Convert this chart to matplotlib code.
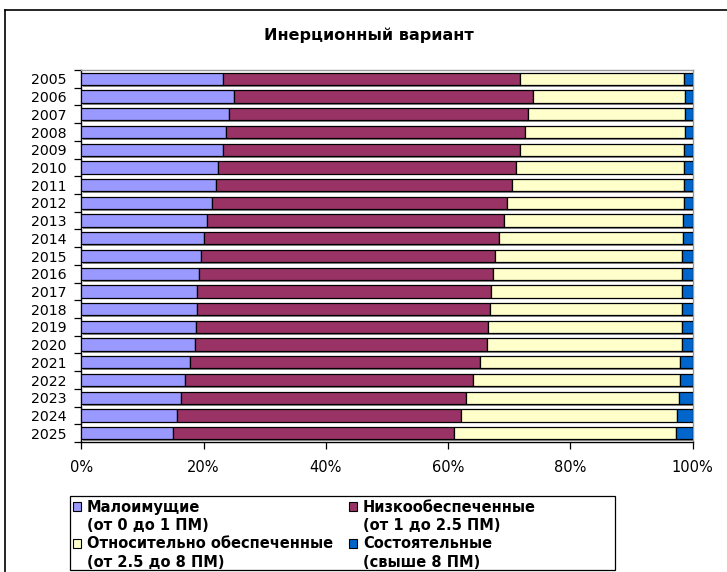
import matplotlib
matplotlib.use("Agg")
import matplotlib.pyplot as plt
import matplotlib.patheffects as pe
from matplotlib.patches import Rectangle
from matplotlib.lines import Line2D
import numpy as np

plt.rcParams['font.family'] = ['DejaVu Sans']

years = [str(y) for y in range(2005, 2026)]

# shares, %
malo = [23.1, 24.9, 24.2, 23.7, 23.1, 22.4, 22.0, 21.3, 20.6, 20.1, 19.5,
        19.3, 19.0, 19.0, 18.8, 18.6, 17.7, 17.0, 16.3, 15.7, 15.0]
nizko = [48.7, 48.9, 48.9, 48.8, 48.7, 48.7, 48.4, 48.4, 48.5, 48.3, 48.1,
         48.0, 48.0, 47.8, 47.8, 47.8, 47.5, 47.1, 46.7, 46.4, 46.0]
otnos = [26.8, 25.0, 25.7, 26.3, 26.8, 27.5, 28.2, 28.9, 29.3, 30.0, 30.6,
         30.9, 31.2, 31.4, 31.6, 31.8, 32.8, 33.9, 34.7, 35.4, 36.3]
sost = [1.4, 1.2, 1.2, 1.2, 1.4, 1.4, 1.4, 1.4, 1.6, 1.6, 1.8,
        1.8, 1.8, 1.8, 1.8, 1.8, 2.0, 2.0, 2.3, 2.5, 2.7]

series = [malo, nizko, otnos, sost]
colors = ['#9999FF', '#993366', '#FFFFCC', '#0066CC']
names = ['Малоимущие', 'Низкообеспеченные',
         'Относительно обеспеченные', 'Состоятельные']
subs = ['(от 0 до 1 ПМ)', '(от 1 до 2.5 ПМ)',
        '(от 2.5 до 8 ПМ)', '(свыше 8 ПМ)']

W, H = 727, 572
fig = plt.figure(figsize=(W / 100, H / 100), dpi=100)
ax = fig.add_axes([81.3 / W, 1 - 442 / H, 611.4 / W, 372 / H])

y = np.arange(len(years))
left = np.zeros(len(years))
shadow = [pe.SimplePatchShadow(offset=(1, -1.3), shadow_rgbFace='#8c8c8c',
                               alpha=1), pe.Normal()]
for vals, c in zip(series, colors):
    v = np.array(vals)
    ax.barh(y, v, left=left, height=0.7, color=c, edgecolor='black',
            linewidth=0.9, zorder=3, path_effects=shadow)
    left += v

ax.set_xlim(0, 100)
ax.set_ylim(len(years) - 0.5, -0.5)

ax.set_xticks(np.arange(0, 101, 20))
ax.set_xticklabels([f'{t}%' for t in range(0, 101, 20)])
ax.tick_params(axis='x', direction='out', length=5, width=0.9, pad=8,
               labelsize=10.5)

ax.set_yticks(np.arange(len(years) + 1) - 0.5)
ax.set_yticklabels([])
ax.set_yticks(y, minor=True)
ax.set_yticklabels(years, minor=True)
ax.tick_params(axis='y', which='major', direction='out', length=5, width=0.9)
ax.tick_params(axis='y', which='minor', length=0, pad=10.5, labelsize=10.2)

ax.spines['left'].set_color('black')
ax.spines['bottom'].set_color('black')
ax.spines['top'].set_color('#999999')
ax.spines['right'].set_color('#999999')
for s in ax.spines.values():
    s.set_linewidth(1)

fig.text(369 / W, 1 - 35 / H, 'Инерционный вариант', ha='center',
         va='center', fontsize=11.5, fontweight='bold')

# outer chart frame (cropped on the right and bottom)
fig.add_artist(Line2D([5 / W, 1.0], [1 - 10 / H, 1 - 10 / H],
                      color='black', lw=1.2, transform=fig.transFigure))
fig.add_artist(Line2D([5 / W, 5 / W], [1 - 10 / H, 0.0],
                      color='black', lw=1.2, transform=fig.transFigure))

# legend: first line with a marker, second line without
blank = Rectangle((0, 0), 1, 1, fill=False, edgecolor='none', linewidth=0)
handles, labels = [], []
for i in (0, 2, 1, 3):
    handles += [Rectangle((0, 0), 1, 1, facecolor=colors[i],
                          edgecolor='black', linewidth=0.8), blank]
    labels += [names[i], subs[i]]
leg = fig.legend(handles, labels, ncol=2, loc='upper left',
                 bbox_to_anchor=(70 / W, 1 - 497 / H),
                 frameon=False,
                 prop={'size': 10.5, 'weight': 'bold'},
                 handlelength=0.55, handleheight=0.55, handletextpad=0.4,
                 labelspacing=0.22, columnspacing=1.1, borderpad=0.2,
                 borderaxespad=0)
# legend box is wider than its content, as in the original
fig.add_artist(Rectangle((70 / W, 1 - 570 / H), 545 / W, 74 / H,
                         fill=False, edgecolor='black', linewidth=0.9,
                         transform=fig.transFigure))

fig.savefig('out.png', dpi=100)
